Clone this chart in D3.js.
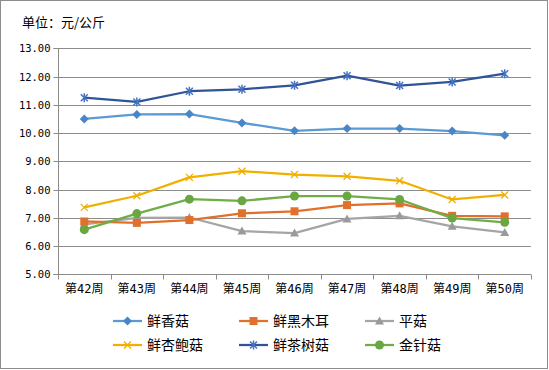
<!DOCTYPE html>
<html><head><meta charset="utf-8">
<script src="https://cdn.jsdelivr.net/npm/d3@7"></script>
<style>body{margin:0;background:#fff;} svg{display:block;}</style>
</head><body><svg id="c" width="549" height="370"></svg>
<script>
const categories = ["第42周","第43周","第44周","第45周","第46周","第47周","第48周","第49周","第50周"];
const yTicks = [5,6,7,8,9,10,11,12,13];
const seriesNames = ["鲜香菇","鲜黑木耳","平菇","鲜杏鲍菇","鲜茶树菇","金针菇"];
const xiangu   = [10.50,10.66,10.67,10.36,10.08,10.16,10.16,10.07,9.92];
const heimuer  = [6.87,6.82,6.92,7.16,7.23,7.45,7.51,7.07,7.05];
const pinggu   = [6.77,7.00,7.01,6.53,6.46,6.96,7.07,6.70,6.48];
const xingbao  = [7.37,7.78,8.43,8.65,8.53,8.47,8.31,7.65,7.81];
const chashu   = [11.25,11.10,11.48,11.55,11.69,12.03,11.68,11.81,12.10];
const jinzhen  = [6.58,7.15,7.66,7.60,7.77,7.77,7.65,6.99,6.84];
const seriesValues = [xiangu, heimuer, pinggu, xingbao, chashu, jinzhen];
const colors = ["#5B9BD5","#E0702B","#A5A5A5","#F0B000","#2F5597","#70AD47"];
const markerColors = ["#4A86C5","#E0702B","#9A9A9A","#F0B000","#4472C4","#6AA642"];
const markers = ["diamond","square","triangle","x","star","circle"];

const svg = d3.select("#c");
const font = "'Noto Sans CJK SC', 'DejaVu Sans', sans-serif";
const monoFont = "'DejaVu Sans Mono', 'Noto Sans CJK SC', monospace";
svg.append("rect").attr("x",0.5).attr("y",0.5).attr("width",547).attr("height",368)
  .attr("fill","#fff").attr("stroke","#8c8c8c");

svg.append("text").attr("x",22).attr("y",27).attr("font-family",font).attr("font-size",13)
  .attr("fill","#000").text("单位：元/公斤");

const L=58, R=531, T=48.3, B=274.3;
const x = d3.scaleBand().domain(categories).range([L,R]);
const y = d3.scaleLinear().domain([5,13]).range([B,T]);

const g = svg.append("g");
g.selectAll("line.grid").data(yTicks).join("line")
  .attr("x1",L).attr("x2",R).attr("y1",d=>Math.round(y(d))+0.5).attr("y2",d=>Math.round(y(d))+0.5)
  .attr("stroke","#8c8c8c").attr("stroke-width",1);

const yAxis = d3.axisLeft(y).tickValues(yTicks).tickFormat(d=>d.toFixed(2)).tickSize(5).tickPadding(3);
const ya = svg.append("g").attr("transform",`translate(${L+0.5},0)`).call(yAxis);
ya.select(".domain").attr("stroke","#8c8c8c").attr("d",`M-5,${Math.round(y(13))+0.5}H0V${Math.round(y(5))+0.5}H-5`);
ya.selectAll(".tick line").attr("stroke","#8c8c8c");
ya.selectAll(".tick").attr("transform",d=>`translate(0,${Math.round(y(d))+0.5})`);
ya.selectAll("text").attr("font-family",monoFont).attr("font-size",10.5).attr("fill","#000");

const bounds = categories.map(c=>x(c)).concat([R]);
const xa = svg.append("g");
xa.selectAll("line").data(bounds).join("line")
  .attr("x1",d=>Math.round(d)+0.5).attr("x2",d=>Math.round(d)+0.5)
  .attr("y1",Math.round(B)+0.5).attr("y2",Math.round(B)+5.5).attr("stroke","#8c8c8c");
xa.selectAll("text").data(categories).join("text")
  .attr("x",d=>x(d)+x.bandwidth()/2).attr("y",293).attr("text-anchor","middle")
  .attr("font-family",monoFont).attr("font-size",12).attr("fill","#000").text(d=>d);

function drawMarker(sel, type, color){
  if(type==="diamond") sel.append("path").attr("d","M0,-4.5L4.5,0L0,4.5L-4.5,0Z").attr("fill",color);
  else if(type==="square") sel.append("rect").attr("x",-4).attr("y",-4).attr("width",8).attr("height",8).attr("fill",color);
  else if(type==="triangle") sel.append("path").attr("d","M0,-4.5L4.5,3.5L-4.5,3.5Z").attr("fill",color);
  else if(type==="circle") sel.append("circle").attr("r",4.5).attr("fill",color);
  else if(type==="x") sel.append("path").attr("d","M-3.5,-3.5L3.5,3.5M-3.5,3.5L3.5,-3.5").attr("stroke",color).attr("stroke-width",1.3).attr("fill","none");
  else if(type==="star") sel.append("path").attr("d","M-3.5,-3.5L3.5,3.5M-3.5,3.5L3.5,-3.5M0,-4.5V4.5").attr("stroke",color).attr("stroke-width",1.5).attr("fill","none");
}

const line = d3.line().x((d,i)=>x(categories[i])+x.bandwidth()/2).y(d=>y(d));
const order = [2,1,5,3,0,4];
order.forEach(si=>{
  const vals = seriesValues[si];
  svg.append("path").attr("d",line(vals)).attr("fill","none").attr("stroke",colors[si]).attr("stroke-width",2.25).attr("stroke-linejoin","round");
  svg.append("g").selectAll("g").data(vals).join("g")
    .attr("transform",(d,i)=>`translate(${x(categories[i])+x.bandwidth()/2},${y(d)})`)
    .each(function(){ drawMarker(d3.select(this), markers[si], markerColors[si]); });
});

const colX = [113,239,365];
const rowY = [321,345];
seriesNames.forEach((n,i)=>{
  const lx = colX[i%3], ly = rowY[Math.floor(i/3)];
  const lg = svg.append("g");
  lg.append("line").attr("x1",lx).attr("x2",lx+29).attr("y1",ly).attr("y2",ly).attr("stroke",colors[i]).attr("stroke-width",2.25);
  const mg = lg.append("g").attr("transform",`translate(${lx+14.5},${ly})`);
  drawMarker(mg, markers[i], markerColors[i]);
  lg.append("text").attr("x",lx+34).attr("y",ly+5).attr("font-family",font).attr("font-size",14).attr("fill","#000").text(n);
});
</script></body></html>
